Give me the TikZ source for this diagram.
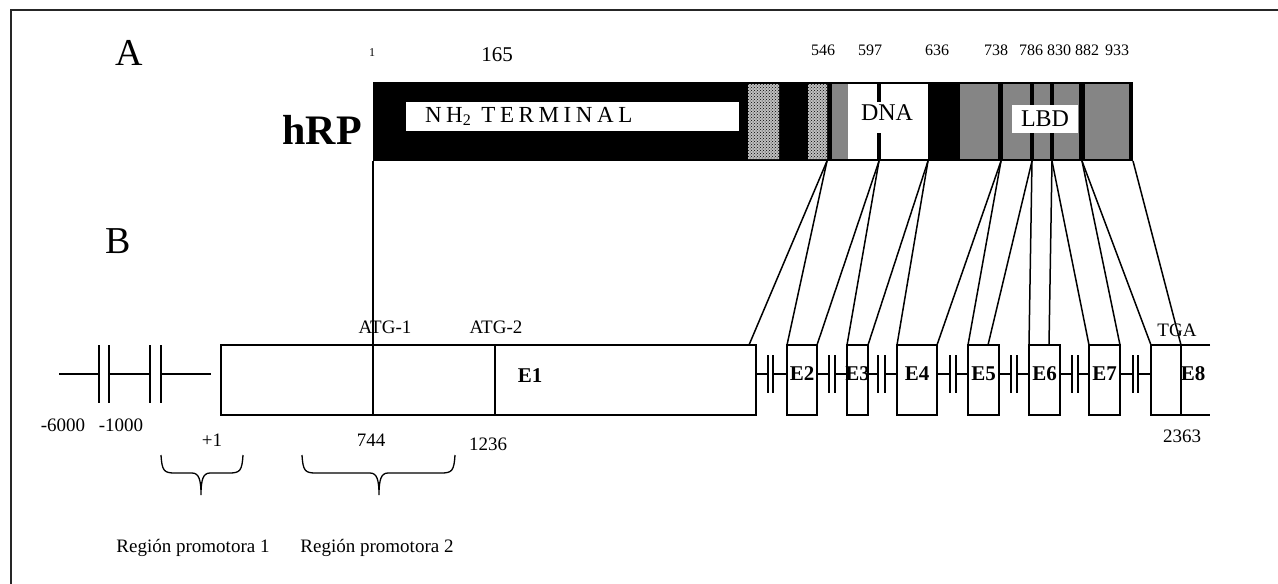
\documentclass[tikz,border=0pt]{standalone}
\usepackage{fontspec}
\setmainfont{Liberation Serif}
\newfontfamily\spacedfont[LetterSpace=20]{Liberation Serif}
\usetikzlibrary{patterns}
\colorlet{lbdgray}{black!48}
\colorlet{chkgray}{black!25}

\begin{document}
\begin{tikzpicture}[x={(1pt,0pt)},y={(0pt,-1pt)},line width=1.5pt,
  every node/.style={inner sep=0pt, outer sep=0pt},
  exon/.style={draw, line width=1.5pt, minimum height=70pt},
  elab/.style={font=\fontsize{21}{21}\selectfont\bfseries},
  num/.style={font=\fontsize{19}{19}\selectfont},
  pnum/.style={font=\fontsize{16}{16}\selectfont},
  big/.style={font=\fontsize{38}{38}\selectfont}]
\useasboundingbox (0,0) rectangle (1278,584);
\draw[line width=2pt, black!85] (1278,10) -- (11,10) -- (11,584);

\node[big] (A) at (129,53) {A};
\node[font=\fontsize{42}{42}\selectfont\bfseries] (hrp) at (322,130) {hRP};

\fill (373,82) rectangle (1133,161);
\fill[chkgray] (748,84) rectangle (779,159) (808,84) rectangle (827,159);
\fill[pattern=crosshatch dots, pattern color=black] (748,84) rectangle (779,159) (808,84) rectangle (827,159);
\fill[lbdgray] (832,84) rectangle (848,159);
\fill[white] (848,84) rectangle (928,159);
\fill (877,84) rectangle (881,102);
\fill (877,133) rectangle (881,159);
\foreach \a/\b in {960/998,1003/1030,1034/1050,1054/1079,1085/1129}
  \fill[lbdgray] (\a,84) rectangle (\b,159);

\node[fill=white, minimum width=333pt, minimum height=29pt, text width=295pt, inner xsep=19pt, align=left, font=\fontsize{23}{23}\selectfont] (nh2) at (572.5,116.5) {\spacedfont NH\textsubscript{2}\hspace{10pt}TERMINAL};
\node[font=\fontsize{24}{24}\selectfont] (dna) at (887,113) {DNA};
\node[fill=white, minimum width=66pt, minimum height=28pt, font=\fontsize{24}{24}\selectfont] (lbd) at (1045,119) {LBD};

\node[font=\fontsize{12}{12}\selectfont] (n1) at (372,53) {1};
\node[font=\fontsize{21}{21}\selectfont] (n165) at (497,55) {165};
\foreach \x/\t in {823/546,870/597,937/636,996/738,1031/786,1059/830,1087/882,1117/933}
  \node[pnum] (n\t) at (\x,50) {\t};

\coordinate (a1) at (373,161);
\coordinate (a546) at (827,161);
\coordinate (a597) at (879,161);
\coordinate (a636) at (928,161);
\coordinate (a738) at (1001,161);
\coordinate (a786) at (1032,161);
\coordinate (a830) at (1052,161);
\coordinate (a882) at (1082,161);
\coordinate (a933) at (1133,161);

\node[big] (B) at (118,241) {B};
\node[exon, minimum width=535pt] (e1) at (488.5,380) {};
\draw (495,345) -- (495,415);
\node[elab] (l1) at (530,376) {E1};
\foreach \n/\x/\w in {2/802/30,3/857.5/21,4/917/40,5/983.5/31,6/1044.5/31,7/1104.5/31}{
  \node[exon, minimum width=\w pt] (e\n) at (\x,380) {};
  \node[elab] (l\n) at ([yshift=6pt]e\n.center) {E\n};
}
\coordinate (e8w) at (1151,345);
\coordinate (e8n) at (1181,345);
\draw (1210,345) -- (e8w) -- (1151,415) -- (1210,415);
\draw (e8n) -- (1181,415);
\node[elab] (l8) at (1193,374) {E8};

\draw (59,374) -- (99,374) (109,374) -- (150,374) (161,374) -- (211,374);
\foreach \x in {99,109,150,161}
  \draw (\x,345) -- (\x,403);
\foreach \p/\q/\s/\t in {e1/e2/768/773,e2/e3/829/835,e3/e4/878/885,e4/e5/950/956,e5/e6/1011/1017,e6/e7/1072/1078,e7/e8w/1133/1138}{
  \draw (\p.east |- 0,374) -- (\s,374) (\t,374) -- (\q.west |- 0,374);
  \draw (\s,355) -- (\s,393) (\t,355) -- (\t,393);
}

\draw (a1) -- (a1 |- e1.south);
\draw (a546) -- ([xshift=-7pt]e1.north east);
\draw (a546) -- (e2.north west);
\draw (a597) -- (e2.north east);
\draw (a597) -- (e3.north west);
\draw (a636) -- (e3.north east);
\draw (a636) -- (e4.north west);
\draw (a738) -- (e4.north east);
\draw (a738) -- (e5.north west);
\draw (a786) -- ([xshift=-11pt]e5.north east);
\draw (a786) -- (e6.north west);
\draw (a830) -- ([xshift=-11pt]e6.north east);
\draw (a830) -- (e7.north west);
\draw (a882) -- (e7.north east);
\draw (a882) -- (e8w);
\draw (a933) -- (e8n);

\node[num] (atg1) at (385,327) {ATG-1};
\node[num] (atg2) at (496,327) {ATG-2};
\node[num] (tga) at (1177,330) {TGA};
\node[num] (n2363) at (1182,436) {2363};
\node[num] (m6000) at (63,425) {-6000};
\node[num] (m1000) at (121,425) {-1000};
\node[num] (p1) at (212,440) {+1};
\node[num] (n744) at (371,440) {744};
\node[num] (n1236) at (488,444) {1236};
\node[num] (prom1) at (193,548) {Región promotora 1};
\node[num] (prom2) at (377,548) {Región promotora 2};

\foreach \l/\m/\r in {161/201/243,302/379/455}
  \draw[line width=1.3pt] (\l,455) .. controls (\l+1,471) and (\l+3,473) .. (\l+14,473) -- (\m-9,473) .. controls (\m-2,473) and (\m,480) .. (\m,495) .. controls (\m,480) and (\m+2,473) .. (\m+9,473) -- (\r-14,473) .. controls (\r-3,473) and (\r-1,471) .. (\r,455);
\end{tikzpicture}
\end{document}
